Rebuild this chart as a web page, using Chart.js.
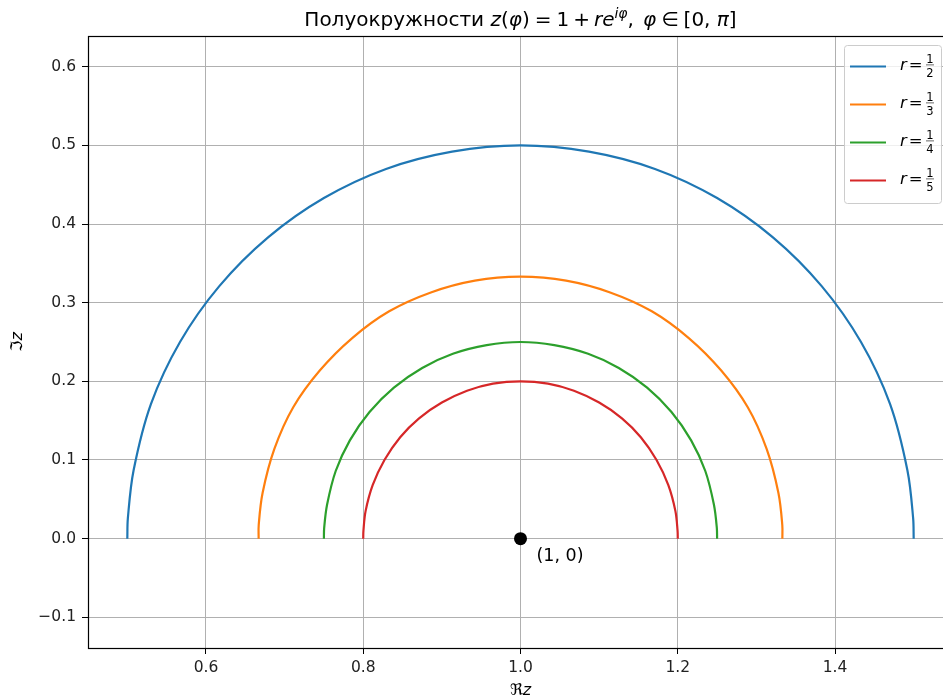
<!DOCTYPE html>
<html>
<head>
<meta charset="utf-8">
<script src="https://cdn.jsdelivr.net/npm/chart.js@4.4.1/dist/chart.umd.min.js"></script>
<style>
  html, body { margin: 0; padding: 0; background: #fff; overflow: hidden; }
  #wrap { width: 965px; height: 700px; position: relative; }
</style>
</head>
<body>
<div id="wrap"><canvas id="semiChart"></canvas></div>
<script>
// точки полуокружностей (шаг 10°, плюс точки у концов)
const r2x = [1.5, 1.4993, 1.492, 1.470, 1.433, 1.383, 1.321, 1.25, 1.171, 1.087, 1.0, 0.913, 0.829, 0.75, 0.679, 0.617, 0.567, 0.530, 0.508, 0.5007, 0.5];
const r2y = [0, 0.0262, 0.087, 0.171, 0.25, 0.321, 0.383, 0.433, 0.470, 0.492, 0.5, 0.492, 0.470, 0.433, 0.383, 0.321, 0.25, 0.171, 0.087, 0.0262, 0];
const r3x = [1.333, 1.3329, 1.328, 1.313, 1.289, 1.255, 1.214, 1.167, 1.114, 1.058, 1.0, 0.942, 0.886, 0.833, 0.786, 0.745, 0.711, 0.687, 0.672, 0.6671, 0.667];
const r3y = [0, 0.0174, 0.058, 0.114, 0.167, 0.214, 0.255, 0.289, 0.313, 0.328, 0.333, 0.328, 0.313, 0.289, 0.255, 0.214, 0.167, 0.114, 0.058, 0.0174, 0];
const r4x = [1.25, 1.2497, 1.246, 1.235, 1.217, 1.192, 1.161, 1.125, 1.086, 1.043, 1.0, 0.957, 0.914, 0.875, 0.839, 0.808, 0.783, 0.765, 0.754, 0.7503, 0.75];
const r4y = [0, 0.0131, 0.043, 0.086, 0.125, 0.161, 0.192, 0.217, 0.235, 0.246, 0.25, 0.246, 0.235, 0.217, 0.192, 0.161, 0.125, 0.086, 0.043, 0.0131, 0];
const r5x = [1.2, 1.1997, 1.197, 1.188, 1.173, 1.153, 1.129, 1.1, 1.068, 1.035, 1.0, 0.965, 0.932, 0.9, 0.871, 0.847, 0.827, 0.812, 0.803, 0.8003, 0.8];
const r5y = [0, 0.0105, 0.035, 0.068, 0.1, 0.129, 0.153, 0.173, 0.188, 0.197, 0.2, 0.197, 0.188, 0.173, 0.153, 0.129, 0.1, 0.068, 0.035, 0.0105, 0];

const centerX = [1.0];
const centerY = [0.0];

const legendNum = ["1", "1", "1", "1"];
const legendDen = ["2", "3", "4", "5"];

const xTicks = [0.6, 0.8, 1.0, 1.2, 1.4];
const yTicks = [-0.1, 0.0, 0.1, 0.2, 0.3, 0.4, 0.5, 0.6];

const colors = ["#1f77b4", "#ff7f0e", "#2ca02c", "#d62728"];

function pts(xs, ys) {
    return xs.map((x, i) => ({ x: x, y: ys[i] }));
}

const FONT = "DejaVu Sans";

// рисуем кусочки текста (обычный/курсив/индекс), gap - просто отступ
function drawRuns(ctx, runs, x, y, align) {
    let total = 0;
    runs.forEach(r => {
        if (r.gap) { r.w = r.gap; total += r.w; return; }
        ctx.font = (r.italic ? "italic " : "") + r.size + "px '" + FONT + "'";
        r.w = ctx.measureText(r.t).width;
        total += r.w;
    });
    let cx = align === "center" ? x - total / 2 : x;
    ctx.textBaseline = "alphabetic";
    ctx.textAlign = "left";
    runs.forEach(r => {
        if (!r.gap) {
            ctx.font = (r.italic ? "italic " : "") + r.size + "px '" + FONT + "'";
            ctx.fillText(r.t, cx, y + (r.dy || 0));
        }
        cx += r.w;
    });
    return total;
}

const extras = {
    id: "extras",
    afterDraw(chart) {
        const ctx = chart.ctx;
        const a = chart.chartArea;
        const xs = chart.scales.x, ys = chart.scales.y;
        ctx.save();

        // рамка осей
        ctx.strokeStyle = "#000";
        ctx.lineWidth = 1.2;
        ctx.strokeRect(Math.round(a.left) + 0.5, Math.round(a.top) + 0.5,
            Math.round(a.right - a.left), Math.round(a.bottom - a.top));

        ctx.fillStyle = "#000";
        // заголовок
        const T = 20;
        drawRuns(ctx, [
            { t: "Полуокружности ", size: T },
            { t: "z", size: T, italic: true },
            { t: "(", size: T },
            { t: "φ", size: T, italic: true },
            { t: ")", size: T },
            { gap: 5 },
            { t: "=", size: T },
            { gap: 5 },
            { t: "1", size: T },
            { gap: 4 },
            { t: "+", size: T },
            { gap: 4 },
            { t: "re", size: T, italic: true },
            { t: "iφ", size: 14, italic: true, dy: -8 },
            { t: ",", size: T },
            { gap: 9 },
            { t: "φ", size: T, italic: true },
            { gap: 5 },
            { t: "∈", size: T },
            { gap: 5 },
            { t: "[0, ", size: T },
            { t: "π", size: T, italic: true },
            { t: "]", size: T }
        ], (a.left + a.right) / 2, 26, "center");

        // подписи осей
        drawRuns(ctx, [
            { t: "ℜ", size: 16 },
            { t: "z", size: 16, italic: true }
        ], (a.left + a.right) / 2, 695, "center");
        ctx.save();
        ctx.translate(22, (a.top + a.bottom) / 2);
        ctx.rotate(-Math.PI / 2);
        drawRuns(ctx, [
            { t: "ℑ", size: 16 },
            { t: "z", size: 16, italic: true }
        ], 0, 0, "center");
        ctx.restore();

        // подпись точки (1, 0)
        const px = xs.getPixelForValue(centerX[0]);
        const py = ys.getPixelForValue(centerY[0]);
        drawRuns(ctx, [{ t: "(1, 0)", size: 17.5 }], px + 16, py + 22, "left");

        // легенда
        const lx = 844.5, ly = 45.5, lw = 97, lh = 158;
        ctx.beginPath();
        ctx.roundRect(lx, ly, lw, lh, 3);
        ctx.fillStyle = "rgba(255,255,255,0.8)";
        ctx.fill();
        ctx.strokeStyle = "#cccccc";
        ctx.lineWidth = 1;
        ctx.stroke();
        for (let i = 0; i < legendDen.length; i++) {
            const cy = 66.5 + i * 38;
            ctx.strokeStyle = colors[i];
            ctx.lineWidth = 2.2;
            ctx.beginPath();
            ctx.moveTo(850, cy);
            ctx.lineTo(886, cy);
            ctx.stroke();
            ctx.fillStyle = "#000";
            drawRuns(ctx, [
                { t: "r", size: 16.5, italic: true },
                { gap: 2 },
                { t: "=", size: 16.5 }
            ], 900, cy + 3, "left");
            ctx.font = "11.5px '" + FONT + "'";
            ctx.textAlign = "center";
            ctx.textBaseline = "alphabetic";
            ctx.fillText(legendNum[i], 930, cy - 4);
            ctx.fillText(legendDen[i], 930, cy + 10);
            ctx.fillStyle = "#444";
            ctx.fillRect(926, cy - 2, 8, 0.8);
        }
        ctx.restore();
    }
};

const ctx = document.getElementById("semiChart").getContext("2d");

new Chart(ctx, {
    type: "scatter",
    data: {
        datasets: [
            { label: "r = 1/2", data: pts(r2x, r2y), borderColor: colors[0] },
            { label: "r = 1/3", data: pts(r3x, r3y), borderColor: colors[1] },
            { label: "r = 1/4", data: pts(r4x, r4y), borderColor: colors[2] },
            { label: "r = 1/5", data: pts(r5x, r5y), borderColor: colors[3] },
            {
                label: "(1, 0)", data: pts(centerX, centerY), showLine: false,
                pointRadius: 6.5, pointBorderWidth: 0,
                backgroundColor: "#000", borderColor: "#000", order: -1
            }
        ].map(d => Object.assign({
            showLine: true, pointRadius: 0, borderWidth: 2.2, tension: 0.335, fill: false
        }, d))
    },
    options: {
        responsive: true,
        maintainAspectRatio: false,
        animation: false,
        layout: { padding: { top: 36, right: 12, bottom: 0, left: 0 } },
        plugins: {
            legend: { display: false },
            title: { display: false },
            tooltip: { enabled: false }
        },
        scales: {
            x: {
                type: "linear", min: 0.45, max: 1.55,
                afterBuildTicks: s => { s.ticks = xTicks.map(v => ({ value: v })); },
                afterFit: s => { s.height = 52; },
                grid: { color: "#b0b0b0", lineWidth: 1, tickColor: "#000", tickLength: 6 },
                border: { display: false },
                ticks: {
                    color: "#222", padding: 5, maxRotation: 0,
                    font: { family: FONT, size: 15.5 },
                    callback: v => v.toFixed(1)
                }
            },
            y: {
                type: "linear", min: -0.139, max: 0.639,
                afterBuildTicks: s => { s.ticks = yTicks.map(v => ({ value: v })); },
                afterFit: s => { s.width = 88; },
                grid: { color: "#b0b0b0", lineWidth: 1, tickColor: "#000", tickLength: 6 },
                border: { display: false },
                ticks: {
                    color: "#222", padding: 6,
                    font: { family: FONT, size: 15.5 },
                    callback: v => v.toFixed(1).replace("-", "\u2212")
                }
            }
        }
    },
    plugins: [extras]
});
</script>
</body>
</html>
